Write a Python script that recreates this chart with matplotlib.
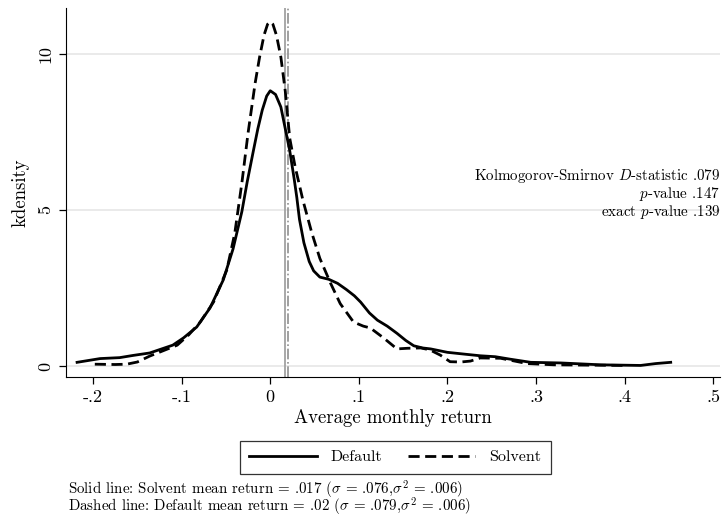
import matplotlib
matplotlib.use('Agg')
import matplotlib.pyplot as plt
from matplotlib.lines import Line2D

plt.rcParams['font.family'] = ['cmr10', 'DejaVu Serif']
plt.rcParams['mathtext.fontset'] = 'cm'
plt.rcParams['axes.unicode_minus'] = False

# Default firms (solid) - kernel density
default_x = [-0.218, -0.192, -0.170, -0.155, -0.136, -0.110, -0.098, -0.083, -0.068,
             -0.053, -0.042, -0.032, -0.026, -0.019, -0.014, -0.009, -0.004, 0.0, 0.006,
             0.012, 0.017, 0.022, 0.027, 0.030, 0.033, 0.038, 0.044, 0.049, 0.056,
             0.066, 0.076, 0.086, 0.095, 0.102, 0.112, 0.121, 0.132, 0.143, 0.153,
             0.162, 0.172, 0.181, 0.200, 0.220, 0.237, 0.254, 0.271, 0.294, 0.328,
             0.373, 0.418, 0.435, 0.452]
default_y = [0.12, 0.24, 0.27, 0.34, 0.42, 0.67, 0.90, 1.25, 1.86,
             2.76, 3.75, 4.95, 5.90, 6.90, 7.60, 8.20, 8.65, 8.82, 8.70,
             8.30, 7.60, 6.90, 6.00, 5.40, 4.70, 3.95, 3.35, 3.05, 2.85,
             2.78, 2.65, 2.45, 2.25, 2.05, 1.70, 1.47, 1.28, 1.05, 0.82,
             0.65, 0.58, 0.55, 0.44, 0.38, 0.33, 0.30, 0.22, 0.12, 0.10,
             0.04, 0.02, 0.08, 0.12]

# Solvent firms (dashed)
solvent_x = [-0.198, -0.175, -0.162, -0.150, -0.136, -0.113, -0.105, -0.092, -0.079,
             -0.064, -0.049, -0.040, -0.032, -0.025, -0.017, -0.012, -0.007, -0.003,
             0.0, 0.003, 0.007, 0.012, 0.017, 0.022, 0.028, 0.037, 0.047, 0.056,
             0.068, 0.079, 0.094, 0.105, 0.113, 0.128, 0.143, 0.155, 0.170, 0.180,
             0.192, 0.203, 0.215, 0.226, 0.237, 0.260, 0.290, 0.320, 0.360, 0.400]
solvent_y = [0.06, 0.05, 0.06, 0.13, 0.32, 0.58, 0.67, 1.00, 1.41,
             2.05, 3.08, 4.26, 5.87, 7.47, 9.07, 9.90, 10.60, 10.95,
             11.03, 10.95, 10.60, 9.90, 8.80, 7.30, 6.40, 5.30, 4.26, 3.45,
             2.66, 2.00, 1.41, 1.28, 1.22, 0.90, 0.55, 0.57, 0.58, 0.52,
             0.35, 0.14, 0.13, 0.16, 0.26, 0.25, 0.08, 0.04, 0.03, 0.02]

solvent_mean = 0.017
default_mean = 0.02
xticks = [-0.2, -0.1, 0, 0.1, 0.2, 0.3, 0.4, 0.5]
xticklabels = ['-.2', '-.1', '0', '.1', '.2', '.3', '.4', '.5']
yticks = [0, 5, 10]

fig = plt.figure(figsize=(7.23, 5.17), dpi=100)
ax = fig.add_axes([0.0913, 0.2708, 0.905, 0.7137])

for yv in yticks:
    ax.axhline(yv, color='#e8e8e8', lw=1.3, zorder=0)
ax.axvline(solvent_mean, color='#a8a8a8', lw=1.4, zorder=1)
ax.axvline(default_mean, color='#909090', lw=1.2, ls='-.', zorder=1)

ax.plot(default_x, default_y, color='black', lw=2.0, ls='-', zorder=3)
ax.plot(solvent_x, solvent_y, color='black', lw=2.0, ls=(0, (4, 2)), zorder=3)

ax.set_xlim(-0.2305, 0.508)
ax.set_ylim(-0.35, 11.47)
ax.set_xticks(xticks)
ax.set_xticklabels(xticklabels)
ax.set_yticks(yticks)
ax.set_yticklabels(['0', '5', '10'], rotation=90, va='center')
ax.tick_params(axis='both', direction='out', length=5, width=0.9, labelsize=13, pad=4)
ax.spines['top'].set_visible(False)
ax.spines['right'].set_visible(False)
ax.set_xlabel('Average monthly return', fontsize=13.5, labelpad=3)
ax.set_ylabel('kdensity', fontsize=13.5, labelpad=6)

ax.text(0.508, 5.5, 'Kolmogorov-Smirnov $D$-statistic .079\n$p$-value .147\nexact $p$-value .139',
        ha='right', va='center', fontsize=10.8, linespacing=1.0)

handles = [Line2D([], [], color='black', lw=2.0, ls='-'),
           Line2D([], [], color='black', lw=2.0, ls=(0, (4, 2)))]
leg = fig.legend(handles, ['Default', 'Solvent'], loc='center',
                 bbox_to_anchor=(0.547, 0.1153), ncol=2, fontsize=11.5,
                 frameon=True, fancybox=False, edgecolor='black',
                 handlelength=4.2, handletextpad=0.9, columnspacing=1.6, borderpad=0.6)
leg.get_frame().set_linewidth(0.9)

note = ('Solid line: Solvent mean return = .017 ($\\sigma$ = .076,$\\sigma^2$ = .006)\n'
        'Dashed line: Default mean return = .02 ($\\sigma$ = .079,$\\sigma^2$ = .006)')
fig.text(0.094, 0.036, note, fontsize=10.8, va='center', linespacing=0.7)

fig.savefig('out.png', dpi=100)
